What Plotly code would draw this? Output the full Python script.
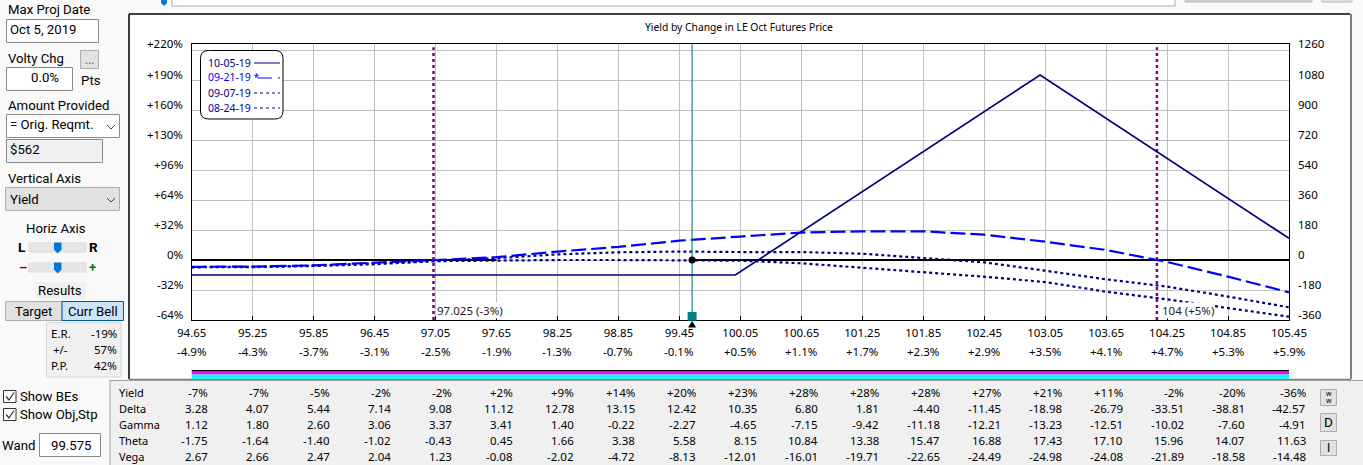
# Yield by change in futures price - option analysis window with its side panels
import plotly.graph_objects as go

W, H = 1363, 465
PLOT_L, PLOT_R, PLOT_T, PLOT_B = 191.7, 1289, 44, 320
UI_FONT = "Roboto"
CHART_FONT = "Noto Sans"

# --- chart data ---
price_ticks = [94.65, 95.25, 95.85, 96.45, 97.05, 97.65, 98.25, 98.85, 99.45, 100.05,
               100.65, 101.25, 101.85, 102.45, 103.05, 103.65, 104.25, 104.85, 105.45]
price_labels = ["94.65", "95.25", "95.85", "96.45", "97.05", "97.65", "98.25", "98.85", "99.45", "100.05",
                "100.65", "101.25", "101.85", "102.45", "103.05", "103.65", "104.25", "104.85", "105.45"]
change_labels = ["-4.9%", "-4.3%", "-3.7%", "-3.1%", "-2.5%", "-1.9%", "-1.3%", "-0.7%", "-0.1%", "+0.5%",
                 "+1.1%", "+1.7%", "+2.3%", "+2.9%", "+3.5%", "+4.1%", "+4.7%", "+5.3%", "+5.9%"]

yield_ticks = [-64, -32, 0, 32, 64, 96, 128, 160, 192, 224]
yield_labels = ["-64%", "-32%", "0%", "+32%", "+64%", "+96%", "+130%", "+160%", "+190%", "+220%"]
dollar_ticks = [-360, -180, 0, 180, 360, 540, 720, 900, 1080, 1260]

# 10-05-19 curve is on the dollar axis, the others on the yield axis
expiry_x = [94.65, 100.0, 103.0, 105.45]
expiry_dollars = [-90, -90, 1110, 130]
yield_0921 = [-7.3, -7.0, -5.7, -3.2, 0.0, 3.0, 9.0, 14.0, 20.6, 25.0,
              29.3, 30.6, 30.6, 27.0, 19.5, 10.7, -2.1, -17.8, -34.5]
yield_0907 = [-7.5, -7.2, -6.0, -3.8, -1.0, 2.0, 6.0, 8.2, 9.0, 8.5,
              8.5, 6.7, 1.8, -2.5, -11.4, -20.6, -28.4, -39.0, -50.5]
yield_0824 = [-7.8, -7.6, -6.4, -4.5, -1.2, -0.3, 0.0, 0.0, 0.0, -0.7,
              -3.5, -8.2, -12.5, -17.8, -23.5, -33.8, -42.0, -51.5, -60.5]
zero_x = [94.65, 97.65, None, 99.575, 105.45]
zero_y = [0, 0, None, 0, 0]

wand_price = 99.575
be_low, be_high = 97.03, 104.15

# --- table under the chart ---
row_names = ["Yield", "Delta", "Gamma", "Theta", "Vega"]
row_yield = ["-7%", "-7%", "-5%", "-2%", "-2%", "+2%", "+9%", "+14%", "+20%", "+23%",
             "+28%", "+28%", "+28%", "+27%", "+21%", "+11%", "-2%", "-20%", "-36%"]
row_delta = ["3.28", "4.07", "5.44", "7.14", "9.08", "11.12", "12.78", "13.15", "12.42", "10.35",
             "6.80", "1.81", "-4.40", "-11.45", "-18.98", "-26.79", "-33.51", "-38.81", "-42.57"]
row_gamma = ["1.12", "1.80", "2.60", "3.06", "3.37", "3.41", "1.40", "-0.22", "-2.27", "-4.65",
             "-7.15", "-9.42", "-11.18", "-12.21", "-13.23", "-12.51", "-10.02", "-7.60", "-4.91"]
row_theta = ["-1.75", "-1.64", "-1.40", "-1.02", "-0.43", "0.45", "1.66", "3.38", "5.58", "8.15",
             "10.84", "13.38", "15.47", "16.88", "17.43", "17.10", "15.96", "14.07", "11.63"]
row_vega = ["2.67", "2.66", "2.47", "2.04", "1.23", "-0.08", "-2.02", "-4.72", "-8.13", "-12.01",
            "-16.01", "-19.71", "-22.65", "-24.49", "-24.98", "-24.08", "-21.89", "-18.58", "-14.48"]


def fx(x):
    return x / W


def fy(y):
    return 1 - y / H


shapes = []
notes = []


def box(x0, y0, x1, y1, fill, line=None, lw=1, layer="below"):
    shapes.append(dict(type="rect", xref="paper", yref="paper", x0=fx(x0), x1=fx(x1), y0=fy(y0), y1=fy(y1),
                       fillcolor=fill, line=dict(color=line or fill, width=lw if line else 0), layer=layer))


def seg(x0, y0, x1, y1, color, lw=1, dash="solid", layer="above"):
    shapes.append(dict(type="line", xref="paper", yref="paper", x0=fx(x0), x1=fx(x1), y0=fy(y0), y1=fy(y1),
                       line=dict(color=color, width=lw, dash=dash), layer=layer))


def poly(points, fill, line=None, lw=0, layer="above"):
    d = "M" + " L".join(f"{fx(a):.5f},{fy(b):.5f}" for a, b in points) + (" Z" if fill != "rgba(0,0,0,0)" else "")
    shapes.append(dict(type="path", xref="paper", yref="paper", path=d, fillcolor=fill,
                       line=dict(color=line or fill, width=lw), layer=layer))


def text(x, y, s, size=13, anchor="left", color="#000000", font=UI_FONT, bold=False):
    # annotations carry a little padding, take it back so x is where the glyphs start or end
    pad = {"left": -1.5, "right": 1.5, "center": 0}[anchor]
    notes.append(dict(x=fx(x), y=fy(y), xref="paper", yref="paper", text=f"<b>{s}</b>" if bold else s,
                      showarrow=False, xanchor=anchor, yanchor="middle", xshift=pad,
                      font=dict(family=font, size=size, color=color)))


def chevron(x, y):
    poly([(x - 4, y - 2), (x, y + 2), (x + 4, y - 2)], "rgba(0,0,0,0)", "#404040", 1)


def slider(y):
    box(29, y - 4.5, 86, y + 4.5, "#e6e6e6", "#dcdcdc")
    poly([(54, y - 5), (61.5, y - 5), (61.5, y + 2), (57.7, y + 6), (54, y + 2)], "#0078d7")


# --- window pieces ---
box(0, 0, W, H, "#f9f9f9")
box(172, -2, 1175, 6, "#ffffff", "#a8a8b0")
box(1185, -2, 1312, 2, "#cccccc", "#bbbbbb")
box(1322, -2, 1352, 2, "#e1e1e1", "#bbbbbb")
poly([(161, 0), (167, 0), (167, 3), (164, 6), (161, 3)], "#0078d7")
box(129, 14, 1351.5, 379, "#ffffff", None)
seg(129, 14, 1350, 14, "#000000", 1.5, layer="below")
seg(129, 14, 129, 379, "#000000", 1.5, layer="below")
seg(1351, 14, 1351, 379, "#808080", 2, layer="below")
seg(129, 379.5, 1351, 379.5, "#808080", 1.5, layer="below")

# strip under the axis
box(PLOT_L, 370, PLOT_R, 371, "#000000")
box(PLOT_L, 371, PLOT_R, 374.5, "#ff00ff")
box(PLOT_L, 374.5, PLOT_R, 378.7, "#00ffff")

# left panel controls
text(7, 10, "Max Proj Date", 13.2)
box(6.5, 19.5, 98.5, 42.5, "#ffffff", "#8a8a8a")
text(9, 30, "Oct 5, 2019", 13.2)
text(7, 58, "Volty Chg", 13.2)
box(80.5, 50.5, 98.5, 68.5, "#e1e1e1", "#adadad")
text(89.5, 60, "...", 12, "center", "#555555")
box(6.5, 67.5, 72.5, 90.5, "#ffffff", "#8a8a8a")
text(59, 78, "0.0%", 13.2, "right")
text(80, 80, "Pts", 13.2)
text(7, 105, "Amount Provided", 13.2)
box(6.5, 114.5, 119.5, 137.5, "#ffffff", "#8a8a8a")
text(9, 125, "= Orig. Reqmt.", 13.2)
chevron(111, 127)
box(6.5, 139.5, 102.5, 162.5, "#f0f0f0", "#8a8a8a")
text(9, 150, "$562", 13.2)
text(7, 178, "Vertical Axis", 13.2)
box(5.5, 187.5, 119.5, 210.5, "#e1e1e1", "#adadad")
text(9, 199, "Yield", 13.2)
chevron(111, 200)
text(56, 229, "Horiz Axis", 13.2, "center")
text(22, 247, "L", 13.5, "center", bold=True)
text(93, 247, "R", 13.5, "center", bold=True)
slider(247.5)
text(23, 267, "–", 13, "center", "#8b0000", bold=True)
text(92, 267, "+", 13, "center", "#008000", bold=True)
slider(267.5)
box(35, 282, 86, 299, "#f0f0f0")
text(60, 290, "Results", 13.2, "center")
box(5.5, 301.5, 62, 320.5, "#e1e1e1", "#adadad")
text(33, 311, "Target", 13.2, "center")
box(62, 301.5, 123.5, 320.5, "#cce4f7", "#005499")
text(93, 311, "Curr Bell", 13.2, "center")
box(46.5, 322.5, 121, 377, "#f0f0f0", "#d8d8d8")
for y, name, val, nx in [(333, "E.R.", "-19%", 50), (349, "+/-", "57%", 52), (365, "P.P.", "42%", 50)]:
    text(nx, y, name, 11.5, font=CHART_FONT)
    text(117, y, val, 11.5, "right", font=CHART_FONT)

for y, name in [(396.5, "Show BEs"), (414.5, "Show Obj,Stp")]:
    box(3.5, y - 6, 16, y + 6, "#ffffff", "#333333")
    poly([(6, y), (9, y + 3.5), (14, y - 4)], "rgba(0,0,0,0)", "#333333", 1.2)
    text(19.5, y, name, 13.2)
text(1, 445, "Wand", 13.2)
box(39.5, 433.5, 100.5, 456.5, "#ffffff", "#8a8a8a")
text(92, 445, "99.575", 13.2, "right")

# table panel
box(110, 380, W, H, "#f0f0f0")
seg(110, 380.5, W, 380.5, "#a0a0a0", 1, layer="below")
seg(110, 380, 110, H, "#a0a0a0", 1, layer="below")
rows = [row_yield, row_delta, row_gamma, row_theta, row_vega]
row_y = [392, 408, 424, 440, 456]
for name, vals, y in zip(row_names, rows, row_y):
    text(118.5, y, name, 11, font=CHART_FONT)
    for i, v in enumerate(vals):
        text(208.6 + 61 * i, y, v, 11.5, "right", font=CHART_FONT)
box(1320.5, 389.5, 1336.5, 405.5, "#e1e1e1", "#adadad")
text(1328.5, 393.5, "w", 7, "center", font=CHART_FONT)
text(1328.5, 400.5, "w", 7, "center", font=CHART_FONT)
box(1320.5, 413.5, 1336.5, 431.5, "#e1e1e1", "#adadad")
text(1328.5, 422, "D", 13.5, "center")
box(1320.5, 440.5, 1336.5, 455.5, "#e1e1e1", "#adadad")
text(1328.5, 448, "I", 12, "center")

# legend box with rounded corners, drawn by hand since the samples sit right of the text
r = 8
lx0, lx1, ly0, ly1 = 200.5, 283, 50.5, 119
shapes.append(dict(type="path", xref="paper", yref="paper", layer="above", fillcolor="#ffffff",
                   line=dict(color="#000000", width=1),
                   path=(f"M{fx(lx0 + r)},{fy(ly0)} L{fx(lx1 - r)},{fy(ly0)} Q{fx(lx1)},{fy(ly0)} {fx(lx1)},{fy(ly0 + r)} "
                         f"L{fx(lx1)},{fy(ly1 - r)} Q{fx(lx1)},{fy(ly1)} {fx(lx1 - r)},{fy(ly1)} "
                         f"L{fx(lx0 + r)},{fy(ly1)} Q{fx(lx0)},{fy(ly1)} {fx(lx0)},{fy(ly1 - r)} "
                         f"L{fx(lx0)},{fy(ly0 + r)} Q{fx(lx0)},{fy(ly0)} {fx(lx0 + r)},{fy(ly0)} Z")))
text(207.5, 63, "10-05-19", 10.5, color="#000080", font=CHART_FONT)
text(207.5, 77.5, "09-21-19 *", 10.5, color="#0000ff", font=CHART_FONT)
text(207.5, 92.5, "09-07-19", 10.5, color="#000080", font=CHART_FONT)
text(207.5, 107.5, "08-24-19", 10.5, color="#0000a8", font=CHART_FONT)
seg(254, 63, 280, 63, "#000080", 1)
seg(258, 78, 272, 78, "#0000ff", 1)
seg(278, 78, 280, 78, "#0000ff", 1)
seg(254, 93, 280, 93, "#000080", 1, "3px,3px")
seg(254, 108, 280, 108, "#0000a8", 1, "3px,3px")

text(739, 27, "Yield by Change in LE Oct Futures Price", 10.3, "center", font=CHART_FONT)

axis_font = dict(family=CHART_FONT, size=11.5, color="#000000")

# y labels sit a little above their gridlines in the original
for v, s in zip(yield_ticks, yield_labels):
    notes.append(dict(x=fx(185), y=v, xref="paper", yref="y", text=s, showarrow=False, xanchor="right",
                      yanchor="middle", yshift=6, font=axis_font))
for v in dollar_ticks:
    notes.append(dict(x=fx(1296), y=v, xref="paper", yref="y2", text=str(v), showarrow=False, xanchor="left",
                      yanchor="middle", yshift=6, font=axis_font))

# second row of the price axis and the break-even tags
for x, s in zip(price_ticks, change_labels):
    notes.append(dict(x=x, y=fy(351), xref="x", yref="paper", text=s, showarrow=False, yanchor="middle",
                      font=axis_font))
for px_left, s in [(436, "97.025 (-3%)"), (1161, "104 (+5%)")]:
    notes.append(dict(x=fx(px_left), y=fy(310), xref="paper", yref="paper", text=s, showarrow=False,
                      xanchor="left", yanchor="middle", bgcolor="#ffffff", borderpad=0,
                      font=dict(family=CHART_FONT, size=11.5, color="#222222")))

# wand marker under the axis, sized in pixels around its price
shapes.append(dict(type="path", xref="x", yref="paper", xsizemode="pixel", xanchor=wand_price, layer="above",
                   path=f"M-4,{fy(327.5)} L0,{fy(321)} L4,{fy(327.5)} Z", fillcolor="#000000", line=dict(width=0)))
shapes.append(dict(type="rect", xref="x", yref="paper", xsizemode="pixel", xanchor=wand_price, layer="above",
                   x0=-4.5, x1=4.5, y0=fy(320.7), y1=fy(312), fillcolor="#008080", line=dict(width=0)))

# --- traces ---
fig = go.Figure()
fig.add_trace(go.Scatter(x=zero_x, y=zero_y, mode="lines", line=dict(color="#000000", width=2.2)))
fig.add_trace(go.Scatter(x=price_ticks, y=yield_0824, mode="lines", name="08-24-19",
                         line=dict(color="#000080", width=2.2, dash="3px,3px")))
fig.add_trace(go.Scatter(x=price_ticks, y=yield_0907, mode="lines", name="09-07-19",
                         line=dict(color="#000080", width=2.2, dash="3px,3px")))
fig.add_trace(go.Scatter(x=price_ticks, y=yield_0921, mode="lines", name="09-21-19",
                         line=dict(color="#0000ff", width=2.2, dash="15px,5px")))
fig.add_trace(go.Scatter(x=expiry_x, y=expiry_dollars, mode="lines", name="10-05-19", yaxis="y2",
                         line=dict(color="#000080", width=1.7)))
for be in (be_low, be_high):
    fig.add_trace(go.Scatter(x=[be, be], y=[-64, 227], mode="lines",
                             line=dict(color="#800080", width=2.5, dash="3px,3px")))
fig.add_trace(go.Scatter(x=[wand_price, wand_price], y=[-64, 230.4], mode="lines",
                         line=dict(color="#008080", width=1.1)))
fig.add_trace(go.Scatter(x=[wand_price], y=[0], mode="markers",
                         marker=dict(color="#000000", size=7, symbol="circle")))

fig.update_layout(
    width=W, height=H, margin=dict(l=0, r=0, t=0, b=0, autoexpand=False), showlegend=False,
    paper_bgcolor="#f9f9f9", plot_bgcolor="rgba(0,0,0,0)", shapes=shapes, annotations=notes,
    xaxis=dict(domain=[fx(PLOT_L), fx(PLOT_R)], range=[94.65, 105.45], tickmode="array", automargin=False,
               tickvals=price_ticks, ticktext=price_labels, ticks="inside", ticklen=4, tickcolor="#000000",
               tickangle=0, tickfont=axis_font, ticklabelstandoff=2, showgrid=True, gridcolor="#c0c0c0",
               gridwidth=1, zeroline=False,
               showline=True, linecolor="#000000", linewidth=1.2, mirror=True, anchor="y"),
    yaxis=dict(domain=[fy(PLOT_B), fy(PLOT_T)], range=[-64, 230.4], tickmode="array", automargin=False,
               tickvals=yield_ticks, showticklabels=False, ticks="",
               showgrid=True, gridcolor="#c0c0c0", gridwidth=1, zeroline=False,
               showline=True, linecolor="#000000", linewidth=1.2, mirror=True, anchor="x"),
    yaxis2=dict(domain=[fy(PLOT_B), fy(PLOT_T)], range=[-360, 1296], tickmode="array", automargin=False,
                tickvals=dollar_ticks, showticklabels=False, ticks="",
                showgrid=False, zeroline=False, overlaying="y", side="right", anchor="x"),
)

# the page's default body margin would push the whole window 8px in
fig.write_html("out.html", config={"displayModeBar": False}, post_script="document.body.style.margin='0';")
